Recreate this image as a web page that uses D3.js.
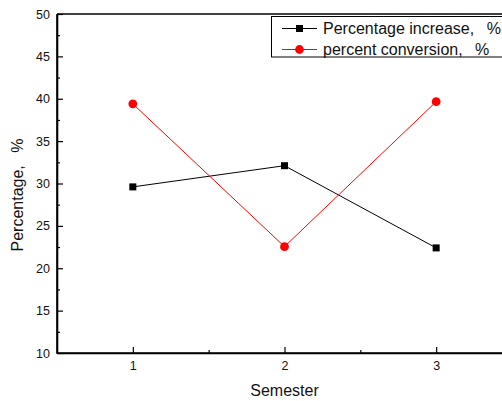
<!DOCTYPE html>
<html><head><meta charset="utf-8">
<script src="https://cdn.jsdelivr.net/npm/d3@7"></script>
<style>
html,body{margin:0;padding:0;background:#fff;overflow:hidden;}
text{font-family:Arial,"Liberation Sans",sans-serif;white-space:pre;}
</style></head>
<body>
<svg id="c" width="502" height="401"></svg>
<script>
const semesters = [1, 2, 3];
const percentageIncrease = [29.6, 32.1, 22.4];
const percentConversion = [39.4, 22.55, 39.65];
const seriesNames = ["Percentage increase,\u2002 %", "percent conversion,\u2002 %"];
const yTitle = "Percentage,\u2002 %";
const xTitle = "Semester";
const yTicks = [10, 15, 20, 25, 30, 35, 40, 45, 50];
const yMinor = [12.5, 17.5, 22.5, 27.5, 32.5, 37.5, 42.5, 47.5];
const xMinor = [1.5, 2.5];

const svg = d3.select("#c");
const L = 57, R = 512, T = 14, B = 353;
const x = d3.scaleLinear().domain([0.5, 3.5]).range([L, R]);
const y = d3.scaleLinear().domain([10, 50]).range([B, T]);

// frame
svg.append("line").attr("x1", L).attr("x2", R).attr("y1", T).attr("y2", T).attr("stroke", "#000").attr("stroke-width", 1.5);
svg.append("line").attr("x1", R).attr("x2", R).attr("y1", T).attr("y2", B).attr("stroke", "#000").attr("stroke-width", 1.5);

// left axis
const gl = svg.append("g").attr("transform", `translate(${L},0)`);
gl.call(d3.axisLeft(y).tickValues(yTicks).tickSizeInner(-6).tickSizeOuter(0).tickPadding(7).tickFormat(d3.format("d")));
gl.append("g").call(d3.axisLeft(y).tickValues(yMinor).tickSizeInner(-3).tickSizeOuter(0).tickFormat(""));
// bottom axis
const gb = svg.append("g").attr("transform", `translate(0,${B})`);
gb.call(d3.axisBottom(x).tickValues(semesters).tickSizeInner(-6).tickSizeOuter(0).tickPadding(8).tickFormat(d3.format("d")));
gb.append("g").call(d3.axisBottom(x).tickValues(xMinor).tickSizeInner(-3).tickSizeOuter(0).tickFormat(""));

svg.selectAll(".domain").attr("stroke", "#000").attr("stroke-width", 1.6);
svg.selectAll(".tick line").attr("stroke", "#000").attr("stroke-width", 1.2);
svg.selectAll(".tick text").attr("font-size", 12.5).attr("fill", "#111").attr("font-family", "Arial, 'Liberation Sans', sans-serif");
gl.select(".domain").attr("d", `M0,${B + 0.8}V${T}`);
gb.select(".domain").attr("d", `M${L},0H${R}`);

// axis titles
svg.append("text").attr("x", x(2)).attr("y", 396).attr("text-anchor", "middle").attr("font-size", 16).attr("fill", "#111").text(xTitle);
svg.append("text").attr("transform", `translate(23,195) rotate(-90)`).attr("text-anchor", "middle").attr("font-size", 16).attr("fill", "#111").text(yTitle);

// lines
const line = d3.line().x((d, i) => x(semesters[i])).y(d => y(d));
svg.append("path").datum(percentageIncrease).attr("d", line).attr("fill", "none").attr("stroke", "#000").attr("stroke-width", 1);
svg.append("path").datum(percentConversion).attr("d", line).attr("fill", "none").attr("stroke", "#ff0000").attr("stroke-width", 1);

svg.selectAll(".sq").data(percentageIncrease).enter().append("rect")
  .attr("x", (d, i) => x(semesters[i]) - 3.5).attr("y", d => y(d) - 3.5)
  .attr("width", 7).attr("height", 7).attr("fill", "#000");
svg.selectAll(".ci").data(percentConversion).enter().append("circle")
  .attr("cx", (d, i) => x(semesters[i])).attr("cy", d => y(d)).attr("r", 4.4).attr("fill", "#ff0000");

// legend
const lg = svg.append("g");
lg.append("rect").attr("x", 271.5).attr("y", 16.5).attr("width", 260).attr("height", 40.5).attr("fill", "#fff").attr("stroke", "#000").attr("stroke-width", 1);
const rows = [28.5, 49.5];
const colors = ["#000", "#ff0000"];
rows.forEach((ry, i) => {
  lg.append("line").attr("x1", 282).attr("x2", 317).attr("y1", ry).attr("y2", ry).attr("stroke", colors[i]).attr("stroke-width", 1);
  if (i === 0) lg.append("rect").attr("x", 299.5 - 3.5).attr("y", ry - 3.5).attr("width", 7).attr("height", 7).attr("fill", "#000");
  else lg.append("circle").attr("cx", 299.5).attr("cy", ry).attr("r", 4.4).attr("fill", "#ff0000");
  lg.append("text").attr("x", 323).attr("y", ry + 5.8).attr("font-size", 16).attr("fill", "#111").text(seriesNames[i]);
});
</script>
</body></html>
